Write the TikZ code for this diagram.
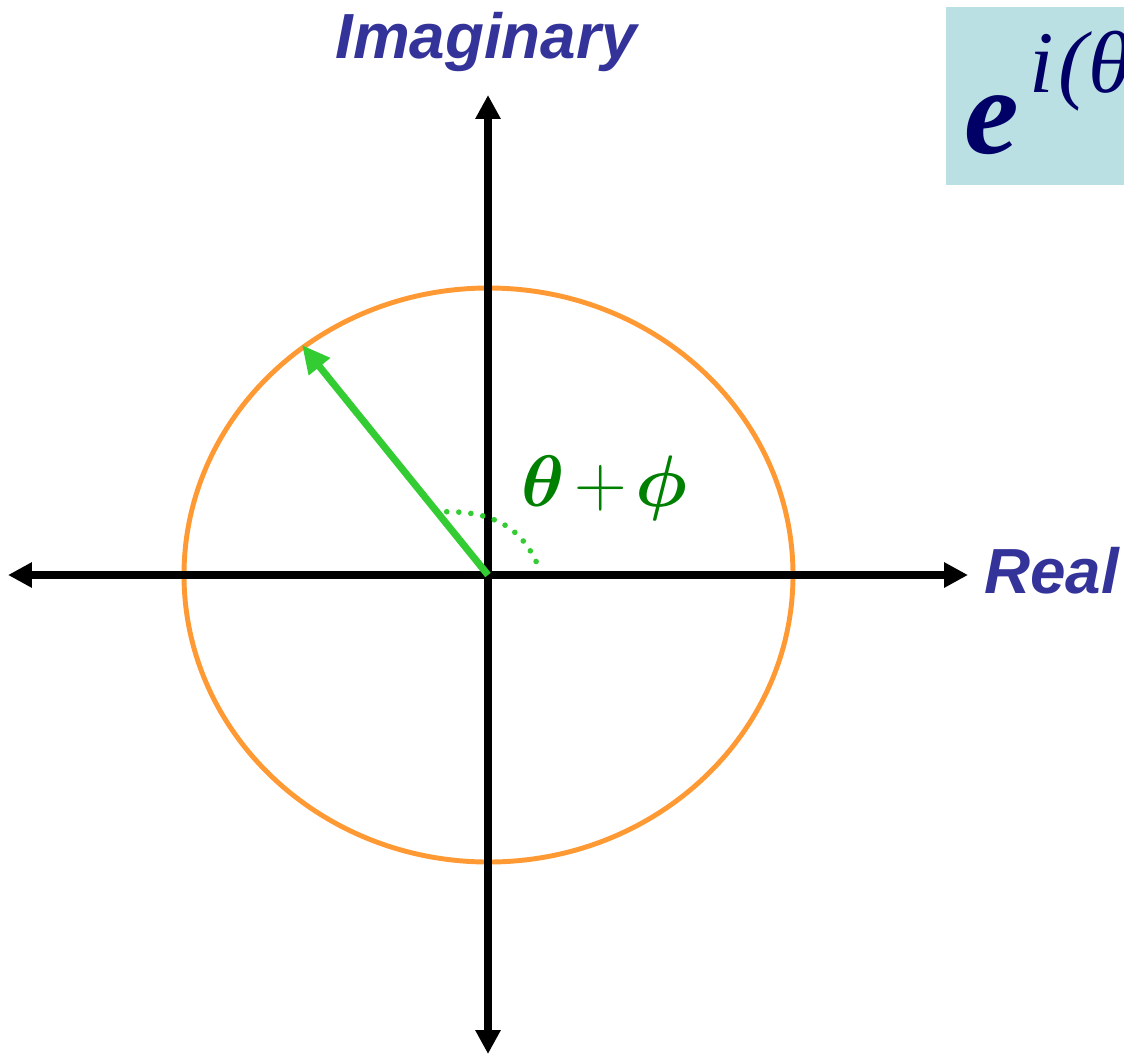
\documentclass[tikz,border=0pt]{standalone}
\usepackage{fix-cm}
\usepackage{fontspec}
\newfontfamily\labelfont{Liberation Sans}
\newfontfamily\formfont{Liberation Serif}
\usetikzlibrary{arrows.meta}
\definecolor{axislabel}{RGB}{51,51,153}
\definecolor{circorange}{RGB}{255,153,51}
\definecolor{vecgreen}{RGB}{51,204,51}
\definecolor{anglegreen}{RGB}{0,128,0}
\definecolor{boxblue}{RGB}{187,224,228}
\definecolor{formnavy}{RGB}{0,0,102}
\tikzset{
  axisline/.style={line width=4pt, black, {Triangle[length=13.6pt,width=13.6pt]}-{Triangle[length=13.6pt,width=13.6pt]}},
  axislab/.style={inner sep=0pt, text=axislabel, font=\labelfont\bfseries\itshape\fontsize{36.3}{40}\selectfont},
  vector/.style={line width=4pt, vecgreen, -{Triangle[length=15.9pt,width=14.7pt]}},
  unitcirc/.style={line width=2.8pt, circorange},
  anglearc/.style={line width=3.2pt, vecgreen, line cap=round, dash pattern=on 0pt off 6.9pt},
  supglyph/.style={inner sep=0pt, anchor=base west, text=formnavy, font=\formfont\itshape\fontsize{50}{56}\selectfont},
}
\begin{document}
\begin{tikzpicture}[x=0.02cm,y=-0.02cm]
\useasboundingbox (0,0) rectangle (1124,1055);
% formula box (cut off at the picture edge, as in the original)
\begin{scope}
  \clip (946,7) rectangle (1124,185);
  \fill[boxblue] (946,7) rectangle (1124,185);
  \node[inner sep=0pt, anchor=base west, text=formnavy, font=\formfont\bfseries\itshape\fontsize{70}{76}\selectfont] (fe) at (964,153) {e};
  \node[supglyph] (fi) at (1029,92) {i};
  \node[supglyph] (fp) at (1058,92) {(};
  \node[supglyph] (ft) at (1088,92) {θ};
\end{scope}
% coordinates
\coordinate (O) at (488,575);
\coordinate (L) at (8,575);
\coordinate (R) at (968,575);
\coordinate (T) at (488,95);
\coordinate (B) at (488,1054);
\coordinate (P) at (302,345);
% circle
\draw[unitcirc] (488.5,575) ellipse [x radius=304.5, y radius=287];
% axes
\draw[axisline] (L) -- (R);
\draw[axisline] (B) -- (T);
% angle arc
\coordinate (A1) at (446.7,511.7);
\coordinate (A2) at (538.3,566.3);
\draw[anglearc] (A1) .. controls (500,511.7) and (524,533) .. (A2);
% vector
\draw[vector] (O) -- (P);
% labels
\node[axislab, anchor=base] (imag) at (486,58) {Imaginary};
\node[axislab, anchor=base west] (real) at (984,593) {Real};
\node[inner sep=0pt, anchor=base west, text=anglegreen, font=\fontsize{41.5}{50}\selectfont] (ang) at (521,506) {$\mbox{\boldmath$\theta$}\mskip2.5mu{+}\mskip2mu\mbox{\boldmath$\phi$}$};
\end{tikzpicture}
\end{document}
